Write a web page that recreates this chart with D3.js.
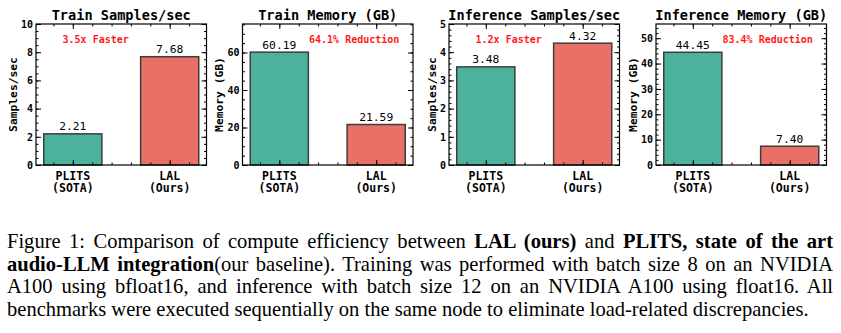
<!DOCTYPE html>
<html>
<head>
<meta charset="utf-8">
<script src="https://cdn.jsdelivr.net/npm/d3@7"></script>
<style>
  body { margin: 0; background: #fff; }
  #wrap { position: relative; width: 841px; height: 333px; overflow: hidden; }
  svg { position: absolute; left: 0; top: 0; }
  .caption {
    position: absolute; left: 7px; top: 230px; width: 865px;
    transform: scaleX(0.955); transform-origin: 0 0;
    font-family: "Liberation Serif", "Times New Roman", serif;
    font-size: 21.5px; line-height: 22.7px; color: #000;
  }
  .caption .ln { text-align: justify; text-align-last: justify; white-space: nowrap; }
  .caption .ln.last { text-align: left; text-align-last: left; }
  .caption b { font-weight: bold; }
</style>
</head>
<body>
<div id="wrap"></div>
<script>
const categories = [["PLITS", "(SOTA)"], ["LAL", "(Ours)"]];
const panelTitles = ["Train Samples/sec", "Train Memory (GB)", "Inference Samples/sec", "Inference Memory (GB)"];
const yLabels = ["Samples/sec", "Memory (GB)", "Samples/sec", "Memory (GB)"];
const trainSamples = [2.21, 7.68];
const trainMemory = [60.19, 21.59];
const inferSamples = [3.48, 4.32];
const inferMemory = [44.45, 7.40];
const valueLabels = [["2.21", "7.68"], ["60.19", "21.59"], ["3.48", "4.32"], ["44.45", "7.40"]];
const annotations = ["3.5x Faster", "64.1% Reduction", "1.2x Faster", "83.4% Reduction"];
const yMax = [10, 75.2, 5, 55.6];
const yTicks = [[0, 2, 4, 6, 8, 10], [0, 20, 40, 60], [0, 1, 2, 3, 4, 5], [0, 10, 20, 30, 40, 50]];
const minorStep = [0.5, 5, 0.2, 2];

const panels = [trainSamples, trainMemory, inferSamples, inferMemory];
const colors = ["#4cb29e", "#e87066"];
const mono = "'DejaVu Sans Mono', monospace";

const wrap = d3.select("#wrap");
const svg = wrap.append("svg").attr("width", 841).attr("height", 225);

const plotTop = 24, h = 141, w = 170.5;
const lefts = [36, 242.5, 449, 656];

panels.forEach((vals, i) => {
  const g = svg.append("g").attr("transform", `translate(${lefts[i]},${plotTop})`);
  const x = d3.scaleLinear().domain([-0.38, 1.38]).range([0, w]);
  const y = d3.scaleLinear().domain([0, yMax[i]]).range([h, 0]);
  const barW = x(0.6) - x(0);

  // bars
  g.selectAll("rect.bar")
    .data(vals)
    .join("rect")
    .attr("class", "bar")
    .attr("x", (d, j) => x(j) - barW / 2)
    .attr("y", (d) => y(d))
    .attr("width", barW)
    .attr("height", (d) => h - y(d))
    .attr("fill", (d, j) => colors[j])
    .attr("stroke", "#3d3d3d")
    .attr("stroke-width", 1.5);

  // value labels
  g.selectAll("text.val")
    .data(vals)
    .join("text")
    .attr("class", "val")
    .attr("x", (d, j) => x(j))
    .attr("y", (d) => y(d) - 3.5)
    .attr("text-anchor", "middle")
    .style("font-family", mono)
    .style("font-size", "11.3px")
    .text((d, j) => valueLabels[i][j]);

  // minor ticks
  const minors = d3.range(0, yMax[i] + 1e-9, minorStep[i]);
  const xMinors = d3.range(-0.2, 1.38, 0.2).map((v) => Math.round(v * 10) / 10);
  g.append("g").call(d3.axisLeft(y).tickValues(minors).tickSize(-2.5).tickFormat(""));
  g.append("g").attr("transform", `translate(${w},0)`)
    .call(d3.axisRight(y).tickValues(minors).tickSize(-2.5).tickFormat(""));
  g.append("g").attr("transform", `translate(0,${h})`)
    .call(d3.axisBottom(x).tickValues(xMinors).tickSize(-2.5).tickFormat(""));
  g.append("g").call(d3.axisTop(x).tickValues(xMinors).tickSize(-2.5).tickFormat(""));

  // major ticks
  g.append("g")
    .attr("class", "y-axis")
    .call(d3.axisLeft(y).tickValues(yTicks[i]).tickSize(-5).tickPadding(3).tickFormat(d3.format("d")));
  g.append("g").attr("transform", `translate(${w},0)`)
    .call(d3.axisRight(y).tickValues(yTicks[i]).tickSize(-5).tickFormat(""));
  g.append("g").attr("transform", `translate(0,${h})`)
    .call(d3.axisBottom(x).tickValues([0, 1]).tickSize(-5).tickFormat(""));
  g.append("g").call(d3.axisTop(x).tickValues([0, 1]).tickSize(-5).tickFormat(""));

  g.selectAll(".domain").remove();
  g.selectAll(".tick line").attr("stroke", "#000").attr("stroke-width", 1);
  g.selectAll(".y-axis .tick text")
    .style("font-family", mono)
    .style("font-size", "10px")
    .style("font-weight", "bold")
    .attr("fill", "#000");

  // frame
  g.append("rect")
    .attr("width", w)
    .attr("height", h)
    .attr("fill", "none")
    .attr("stroke", "#000")
    .attr("stroke-width", 1.2);

  // category labels
  const cat = g.selectAll("text.cat")
    .data(categories)
    .join("text")
    .attr("class", "cat")
    .attr("text-anchor", "middle")
    .style("font-family", mono)
    .style("font-size", "11.5px")
    .style("font-weight", "bold");
  cat.selectAll("tspan")
    .data((d, j) => d.map((s) => ({ s, j })))
    .join("tspan")
    .attr("x", (d) => x(d.j))
    .attr("y", (d, k) => h + 14.5 + k * 12.7)
    .text((d) => d.s);

  // title
  g.append("text")
    .attr("x", w / 2)
    .attr("y", -4)
    .attr("text-anchor", "middle")
    .style("font-family", mono)
    .style("font-size", "13.6px")
    .style("font-weight", "bold")
    .text(panelTitles[i]);

  // y label
  const maxChars = d3.max(yTicks[i], (d) => String(d).length);
  g.append("text")
    .attr("transform", `translate(${-3 - maxChars * 6 - 8},${h / 2}) rotate(-90)`)
    .attr("text-anchor", "middle")
    .attr("dominant-baseline", "central")
    .style("font-family", mono)
    .style("font-size", "11.3px")
    .style("font-weight", "bold")
    .text(yLabels[i]);

  // annotation
  g.append("text")
    .attr("x", w * (i % 2 === 0 ? 0.35 : 0.655))
    .attr("y", h * 0.113)
    .attr("text-anchor", "middle")
    .attr("dominant-baseline", "central")
    .style("font-family", mono)
    .style("font-size", "10px")
    .style("font-weight", "bold")
    .attr("fill", "#ff1a1a")
    .text(annotations[i]);
});

// caption
const cap = wrap.append("div").attr("class", "caption");
cap.append("div").attr("class", "ln")
  .html("Figure 1: Comparison of compute efficiency between <b>LAL (ours)</b> and <b>PLITS, state of the art</b>");
cap.append("div").attr("class", "ln")
  .html("<b>audio-LLM integration</b>(our baseline). Training was performed with batch size 8 on an NVIDIA");
cap.append("div").attr("class", "ln")
  .html("A100 using bfloat16, and inference with batch size 12 on an NVIDIA A100 using float16. All");
cap.append("div").attr("class", "ln last")
  .html("benchmarks were executed sequentially on the same node to eliminate load-related discrepancies.");
</script>
</body>
</html>
